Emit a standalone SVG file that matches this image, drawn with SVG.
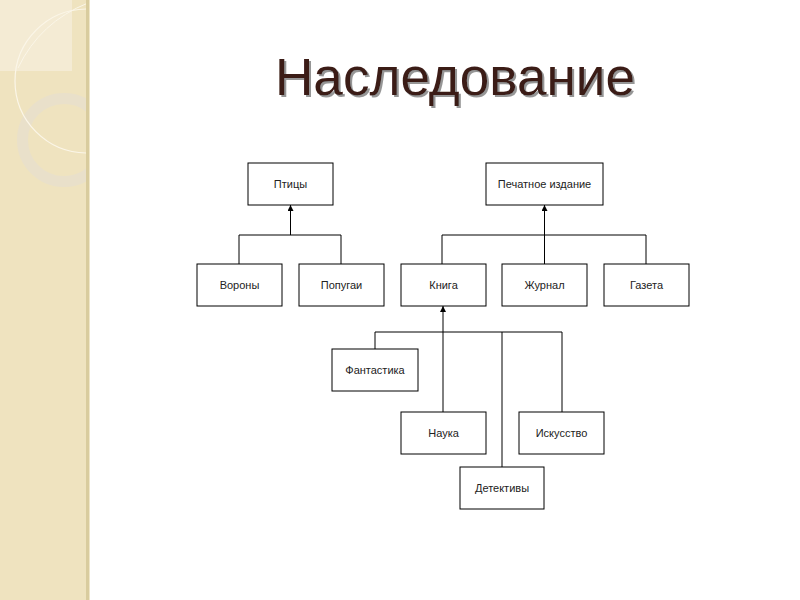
<svg xmlns="http://www.w3.org/2000/svg" width="800" height="600" viewBox="0 0 800 600">
  <defs>
    <style>
      .box { fill: #ffffff; stroke: #000000; stroke-width: 1; }
      .lbl { font-family: "Liberation Sans", Arial, sans-serif; font-size: 11px; fill: #222222; text-anchor: middle; }
      .ln { fill: none; stroke: #000000; stroke-width: 1; }
      .title { font-family: "Liberation Sans", Arial, sans-serif; font-size: 51px; }
    </style>
    <marker id="arr" viewBox="0 0 6 6" refX="6" refY="3" markerWidth="6" markerHeight="6" orient="auto" markerUnits="userSpaceOnUse">
      <path d="M0,0 L6,3 L0,6 Z" fill="#000000"/>
    </marker>
    <filter id="shadow" x="-5%" y="-20%" width="110%" height="140%">
      <feDropShadow dx="2" dy="2" stdDeviation="0.6" flood-color="#8a8a8a" flood-opacity="0.9"/>
    </filter>
    <clipPath id="side"><rect x="0" y="0" width="86" height="600"/></clipPath>
  </defs>

  <rect x="0" y="0" width="800" height="600" fill="#ffffff"/>

  <!-- sidebar -->
  <g id="sidebar">
    <rect x="0" y="0" width="86" height="600" fill="#EFE3BF"/>
    <g clip-path="url(#side)">
      <rect x="0" y="0" width="72" height="71" fill="#F4EBD4"/>
      <circle cx="64" cy="140" r="41.5" fill="none" stroke="#E9E0CA" stroke-width="11"/>
      <circle cx="87" cy="81" r="72" fill="none" stroke="#FBF6E8" stroke-width="1.2"/>
      <path d="M88,3 Q40,22 18,68" fill="none" stroke="#FBF6E8" stroke-width="1"/>
    </g>
    <rect x="86" y="0" width="3" height="600" fill="#D9CC9E"/>
    <rect x="89" y="0" width="1" height="600" fill="#EFE6C8"/>
  </g>

  <!-- title -->
  <g id="title">
    <text x="275" y="95" class="title" fill="#3B1A14" filter="url(#shadow)" textLength="360" lengthAdjust="spacingAndGlyphs">Наследование</text>
  </g>

  <!-- connectors -->
  <g id="connectors">
    <polyline class="ln" points="239,264 239,235 341,235 341,264"/>
    <line class="ln" x1="290.5" y1="235" x2="290.5" y2="205" marker-end="url(#arr)"/>
    <polyline class="ln" points="442,264 442,235 646,235 646,264"/>
    <line class="ln" x1="544.5" y1="264" x2="544.5" y2="205" marker-end="url(#arr)"/>
    <polyline class="ln" points="375,349 375,332 562,332 562,412"/>
    <line class="ln" x1="502" y1="332" x2="502" y2="467"/>
    <line class="ln" x1="443" y1="412" x2="443" y2="306" marker-end="url(#arr)"/>
  </g>

  <!-- nodes -->
  <g id="n-ptitsy"><rect class="box" x="248" y="163" width="85" height="42"/><text class="lbl" x="290.5" y="188">Птицы</text></g>
  <g id="n-vorony"><rect class="box" x="197" y="264" width="85" height="42"/><text class="lbl" x="239.5" y="289">Вороны</text></g>
  <g id="n-popugai"><rect class="box" x="299" y="264" width="85" height="42"/><text class="lbl" x="341.5" y="289">Попугаи</text></g>
  <g id="n-pechat"><rect class="box" x="486" y="163" width="117" height="42"/><text class="lbl" x="544.5" y="188">Печатное издание</text></g>
  <g id="n-kniga"><rect class="box" x="401" y="264" width="85" height="42"/><text class="lbl" x="443.5" y="289">Книга</text></g>
  <g id="n-zhurnal"><rect class="box" x="502" y="264" width="85" height="42"/><text class="lbl" x="544.5" y="289">Журнал</text></g>
  <g id="n-gazeta"><rect class="box" x="604" y="264" width="85" height="42"/><text class="lbl" x="646.5" y="289">Газета</text></g>
  <g id="n-fantastika"><rect class="box" x="332" y="349" width="86" height="42"/><text class="lbl" x="375" y="374">Фантастика</text></g>
  <g id="n-nauka"><rect class="box" x="401" y="412" width="85" height="42"/><text class="lbl" x="443.5" y="437">Наука</text></g>
  <g id="n-iskusstvo"><rect class="box" x="519" y="412" width="85" height="42"/><text class="lbl" x="561.5" y="437">Искусство</text></g>
  <g id="n-detektivy"><rect class="box" x="460" y="467" width="84" height="42"/><text class="lbl" x="502" y="492">Детективы</text></g>
</svg>
